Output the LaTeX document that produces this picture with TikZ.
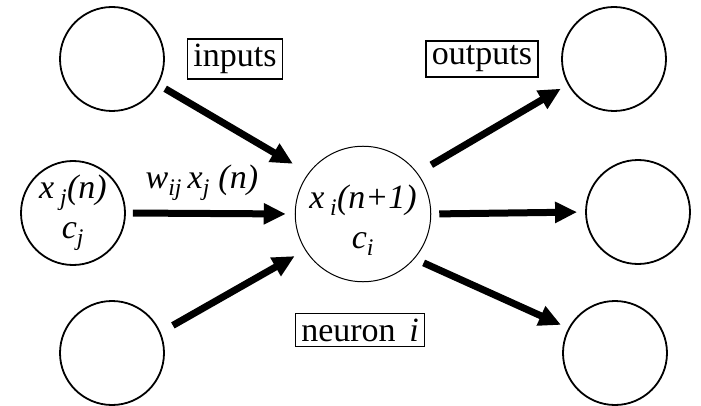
\documentclass[tikz,border=0pt]{standalone}
\usepackage{fontspec}
\setmainfont{Liberation Serif}
\usetikzlibrary{arrows.meta}
\begin{document}
\begin{tikzpicture}[x=1pt,y=-1pt,
  every node/.style={font=\fontsize{34}{40}\selectfont},
  unit/.style={draw,circle,line width=1.8pt,minimum size=104pt,inner sep=0pt,align=center,font=\fontsize{34}{40}\selectfont\itshape},
  tag/.style={draw,line width=1.4pt,inner xsep=6pt,inner ysep=5pt},
  syn/.style={line width=7pt,-{Triangle[length=22pt,width=20pt]}}]
\useasboundingbox (0,0) rectangle (701,406);
% inputs
\node[unit] (a) at (112,59) {};
\node[unit] (xj) at (73,213) {x\,\textsubscript{j}(n)\\c\textsubscript{j}};
\node[unit] (b) at (112,353) {};
% neuron i
\node[unit,line width=1pt,minimum size=128pt] (xi) at (363,214) {\rule{0pt}{36pt}x\,\textsubscript{i}(n+1)\\c\textsubscript{i}};
% outputs
\node[unit] (p) at (614,59) {};
\node[unit] (q) at (638,212) {};
\node[unit] (r) at (615,353) {};
% boxed labels
\node[tag] (in) at (235,59) {inputs};
\node[tag] (out) at (482,59) {outputs};
\node[tag] (nrn) at (360,330) {neuron\hspace{0.4em}\textit{i}};
% connections
\draw[syn,shorten <=8pt,shorten >=18pt] (a.-29) -- (xi.143);
\draw[syn,shorten <=7pt,shorten >=9pt] (xj.east) -- (xi.west)
  node[pos=0.45,above=9pt,inner sep=0pt,font=\fontsize{34}{40}\selectfont\itshape] (w) {w\textsubscript{ij}\,x\textsubscript{j}~(n)};
\draw[syn,shorten <=14pt,shorten >=12pt] (b.23) -- (xi.212.6);
\draw[syn,shorten <=16pt,shorten >=8pt] (xi.37.4) -- (p.209);
\draw[syn,shorten <=8pt,shorten >=8pt] (xi.east) -- (q.west);
\draw[syn,shorten <=10pt,shorten >=8pt] (xi.-41.7) -- (r.152);
\end{tikzpicture}
\end{document}
